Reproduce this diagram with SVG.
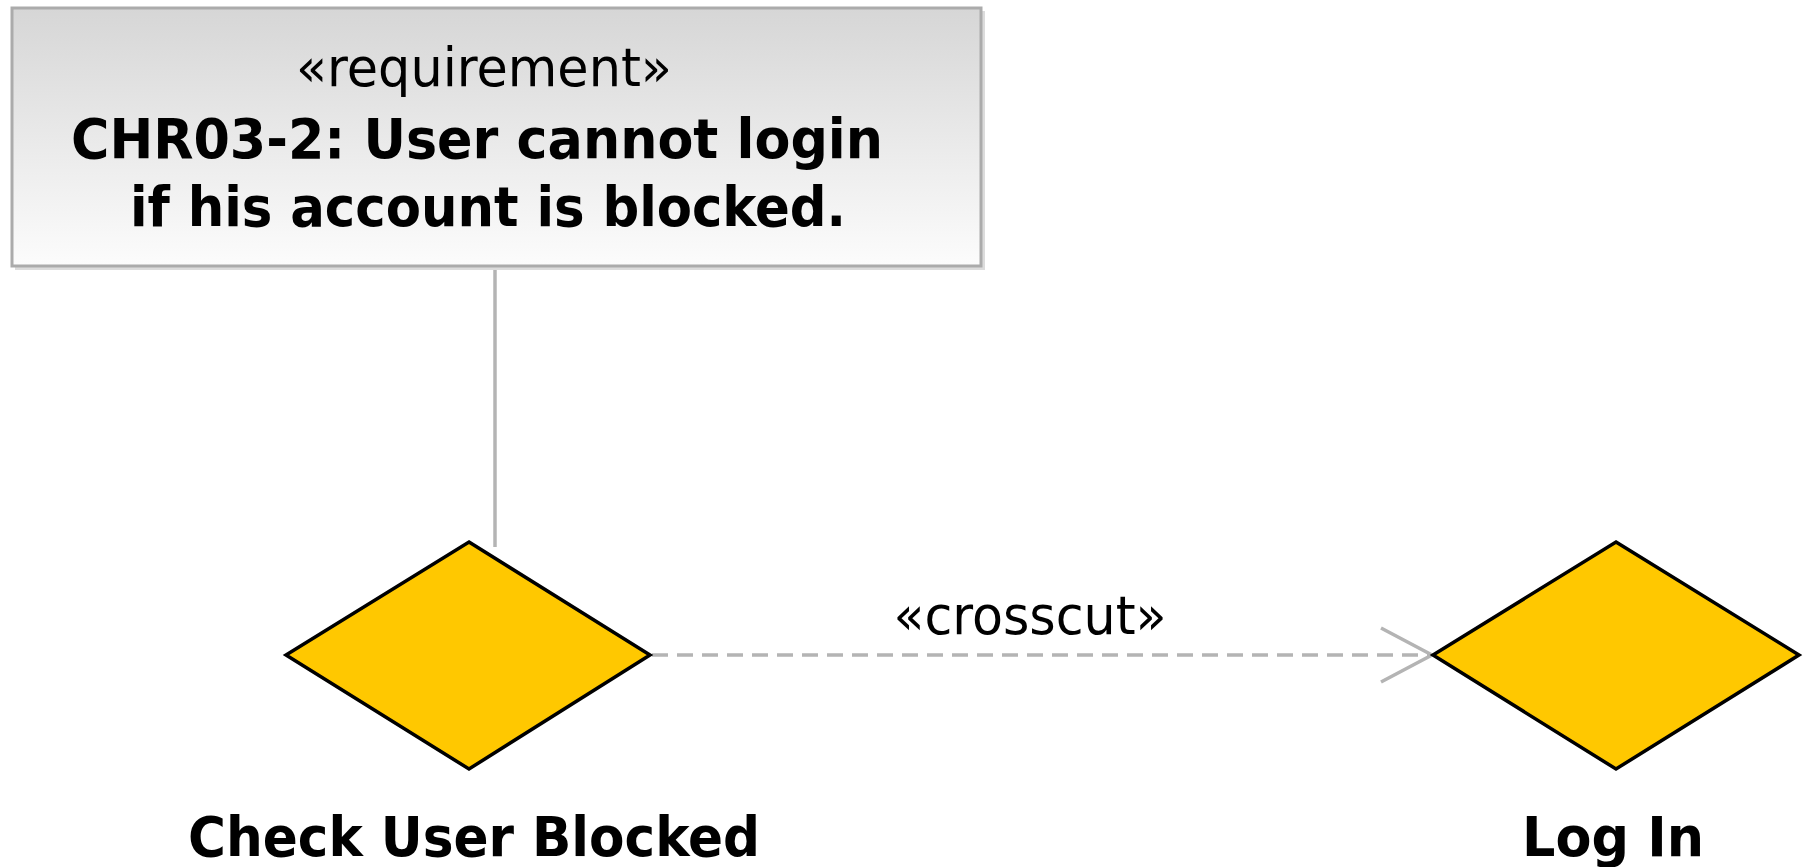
<svg xmlns="http://www.w3.org/2000/svg" width="1805" height="867" viewBox="0 0 1805 867">
<style>
.reg{font-family:"DejaVu Sans Condensed","DejaVu Sans",sans-serif;font-stretch:condensed;font-size:54px;fill:#000}
.bold{font-family:"DejaVu Sans Condensed","DejaVu Sans",sans-serif;font-stretch:condensed;font-weight:bold;font-size:56px;fill:#000}
.dia{fill:#ffc800;stroke:#000;stroke-width:3.5;stroke-linejoin:miter}
.conn{stroke:#b4b4b4;stroke-width:3.5;fill:none}
</style>
<defs>
<linearGradient id="g" x1="0" y1="0" x2="0" y2="1">
<stop offset="0" stop-color="#d6d6d6"/>
<stop offset="1" stop-color="#fcfcfc"/>
</linearGradient>
</defs>
<rect width="1805" height="867" fill="#fff"/>
<g id="connectors">
<line class="conn" x1="495" y1="266" x2="495" y2="547"/>
<line class="conn" x1="652" y1="655" x2="1431" y2="655" stroke-dasharray="16 9"/>
<polyline class="conn" points="1381,628 1432,655 1381,682"/>
<text class="reg" x="1030" y="634" text-anchor="middle" textLength="273" lengthAdjust="spacingAndGlyphs">«crosscut»</text>
</g>
<g id="req">
<rect x="15" y="11" width="970" height="259" fill="#dcdcdc"/>
<rect x="12" y="8" width="969" height="258" fill="url(#g)" stroke="#ababab" stroke-width="3"/>
<text class="reg" x="484" y="86" text-anchor="middle" textLength="376" lengthAdjust="spacingAndGlyphs">«requirement»</text>
<text class="bold" x="477" y="158" text-anchor="middle" textLength="812" lengthAdjust="spacingAndGlyphs">CHR03-2: User cannot login</text>
<text class="bold" x="488" y="226" text-anchor="middle" textLength="716" lengthAdjust="spacingAndGlyphs">if his account is blocked.</text>
</g>
<g id="check">
<polygon class="dia" points="469,542 650,655 469,769 286,655"/>
<text class="bold" x="474" y="856" text-anchor="middle" textLength="572" lengthAdjust="spacingAndGlyphs">Check User Blocked</text>
</g>
<g id="login">
<polygon class="dia" points="1616,542 1799,655 1616,769 1433,655"/>
<text class="bold" x="1613" y="856" text-anchor="middle" textLength="182" lengthAdjust="spacingAndGlyphs">Log In</text>
</g>
</svg>
